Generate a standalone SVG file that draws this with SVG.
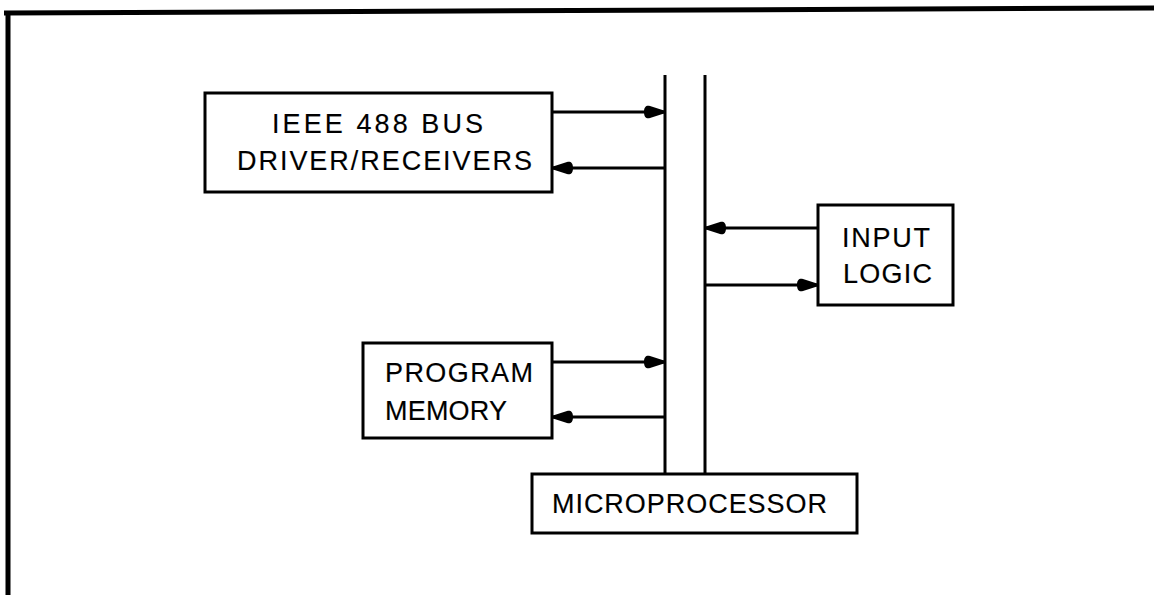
<svg xmlns="http://www.w3.org/2000/svg" width="1154" height="595" viewBox="0 0 1154 595">
<defs>
<style>
.box{fill:#fff;stroke:#000;stroke-width:3}
.ln{stroke:#000;stroke-width:3;fill:none}
.t{font-family:"Liberation Sans",Arial,sans-serif;font-size:27px;fill:#000;stroke:#000;stroke-width:0.15}
</style>
<marker id="ah" viewBox="0 0 20 14" refX="20" refY="7" markerWidth="20" markerHeight="14" markerUnits="userSpaceOnUse" orient="auto">
<path d="M0,7 C0,1 3,0 6,1 L20,5.5 L20,8.5 L6,13 C3,14 0,13 0,7 Z" fill="#000"/>
</marker>
</defs>
<rect width="1154" height="595" fill="#fff"/>
<g id="frame">
<line x1="4" y1="13" x2="1154" y2="8" stroke="#000" stroke-width="5"/>
<line x1="8" y1="11" x2="8" y2="595" stroke="#000" stroke-width="5"/>
</g>
<g id="connectors">
<line class="ln" x1="665" y1="75" x2="665" y2="474"/>
<line class="ln" x1="705" y1="75" x2="705" y2="474"/>
<line class="ln" x1="552" y1="112" x2="664" y2="112" marker-end="url(#ah)"/>
<line class="ln" x1="665" y1="168" x2="553" y2="168" marker-end="url(#ah)"/>
<line class="ln" x1="818" y1="228" x2="706" y2="228" marker-end="url(#ah)"/>
<line class="ln" x1="705" y1="285" x2="817" y2="285" marker-end="url(#ah)"/>
<line class="ln" x1="552" y1="362" x2="664" y2="362" marker-end="url(#ah)"/>
<line class="ln" x1="665" y1="417" x2="553" y2="417" marker-end="url(#ah)"/>
</g>
<g id="ieee488">
<rect class="box" x="205" y="93" width="347" height="99"/>
<text class="t" x="272" y="133" textLength="211" lengthAdjust="spacing">IEEE 488 BUS</text>
<text class="t" x="237" y="170" textLength="295" lengthAdjust="spacing">DRIVER/RECEIVERS</text>
</g>
<g id="inputlogic">
<rect class="box" x="818" y="205" width="135" height="100"/>
<text class="t" x="842" y="247" textLength="88" lengthAdjust="spacing">INPUT</text>
<text class="t" x="843" y="283" textLength="89" lengthAdjust="spacing">LOGIC</text>
</g>
<g id="programmemory">
<rect class="box" x="363" y="343" width="189" height="95"/>
<text class="t" x="385" y="382" textLength="148" lengthAdjust="spacing">PROGRAM</text>
<text class="t" x="385" y="420" textLength="122" lengthAdjust="spacing">MEMORY</text>
</g>
<g id="microprocessor">
<rect class="box" x="532" y="474" width="325" height="59"/>
<text class="t" x="552" y="513" textLength="275" lengthAdjust="spacing">MICROPROCESSOR</text>
</g>
</svg>
